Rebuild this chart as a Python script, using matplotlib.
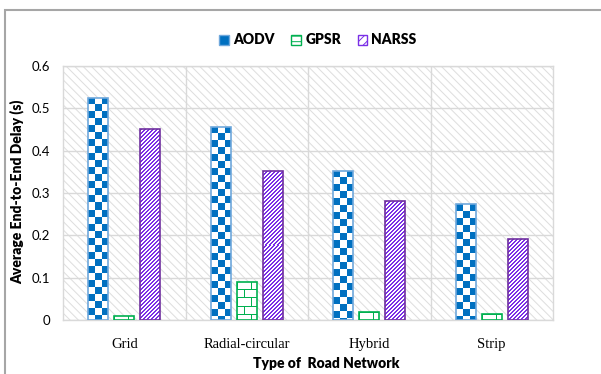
import numpy as np
import matplotlib
matplotlib.use('Agg')
import matplotlib.pyplot as plt
from matplotlib.patches import Rectangle, Patch
from matplotlib.colors import to_rgb

# data
categories = ['Grid', 'Radial-circular', 'Hybrid', 'Strip']
aodv = [0.525, 0.457, 0.352, 0.273]
gpsr = [0.010, 0.090, 0.018, 0.013]
narss = [0.451, 0.352, 0.280, 0.191]
series_names = ['AODV', 'GPSR', 'NARSS']
y_ticks = [0, 0.1, 0.2, 0.3, 0.4, 0.5, 0.6]
y_tick_labels = ['0', '0.1', '0.2', '0.3', '0.4', '0.5', '0.6']

BLUE = '#0070C0'
BLUE_EDGE = '#6FA8DC'
GREEN = '#00B050'
PURPLE = '#7A2FE6'
PURPLE_EDGE = '#7030A0'
GRID = '#D9D9D9'

sans = ['Lato', 'DejaVu Sans']
serif = ['Liberation Serif', 'DejaVu Serif']
plt.rcParams['font.family'] = sans
plt.rcParams['hatch.linewidth'] = 0.7


def pattern(kind, h, w):
    # pixel patterns like the Excel fills
    i, j = np.mgrid[0:h, 0:w]
    img = np.ones((h, w, 3))
    if kind == 'checker':
        mask = ((i // 7 + j // 7) % 2) == 0
        col = BLUE
    elif kind == 'brick':
        row = i // 8
        mask = ((i % 8) == 0) | (((j + (row % 2) * 7) % 14) == 0)
        col = GREEN
    else:
        mask = ((i + j) % 4) < 2
        col = PURPLE
    img[mask] = to_rgb(col)
    return img


fig = plt.figure(figsize=(6.01, 3.74), dpi=100)
ax = fig.add_axes([63 / 601, 54 / 374, 490 / 601, 254 / 374])

# hatched plot area background
ax.add_patch(Rectangle((0, 0), 1, 1, transform=ax.transAxes, facecolor='white',
                       edgecolor='#DDDDDD', hatch='\\\\\\\\', lw=0, zorder=0))

x = np.arange(len(categories))
width = 0.163
step = 0.212
specs = [(aodv, -step, BLUE_EDGE, 'checker'),
         (gpsr, 0, GREEN, 'brick'),
         (narss, step, PURPLE_EDGE, 'stripe')]

all_bars = []
for vals, off, edge, kind in specs:
    bars = ax.bar(x + off, vals, width, facecolor='none', edgecolor=edge, lw=1.2, zorder=3)
    all_bars.append((bars, kind))

ax.set_xlim(-0.5, len(categories) - 0.5)
ax.set_ylim(0, 0.6)

for bars, kind in all_bars:
    for rect in bars:
        bb = rect.get_window_extent()
        w_px = max(1, int(round(bb.width)))
        h_px = max(1, int(round(bb.height)))
        x0 = rect.get_x()
        im = ax.imshow(pattern(kind, h_px, w_px),
                       extent=(x0, x0 + rect.get_width(), 0, rect.get_height()),
                       aspect='auto', interpolation='nearest', zorder=2.5)
        im.set_clip_path(rect)

ax.set_xlim(-0.5, len(categories) - 0.5)
ax.set_ylim(0, 0.6)

ax.set_xticks(x)
ax.set_xticklabels(categories, family=serif, fontsize=10.5)
ax.set_xticks(x[:-1] + 0.5, minor=True)
ax.set_yticks(y_ticks)
ax.set_yticklabels(y_tick_labels, fontsize=9.5)
ax.tick_params(axis='both', which='both', length=0)
ax.tick_params(axis='x', pad=13)
ax.tick_params(axis='y', pad=9)
ax.set_axisbelow(True)
ax.grid(which='major', axis='y', color=GRID, lw=1)
ax.grid(which='minor', axis='x', color=GRID, lw=1)
for s in ax.spines.values():
    s.set_color(GRID)
    s.set_linewidth(1)

fig.text(326 / 601, 1 - 364 / 374, 'Type of  Road Network', ha='center', va='center',
         fontsize=10, fontweight='heavy')
fig.text(17 / 601, 1 - 192 / 374, 'Average End-to-End Delay (s)', ha='center', va='center',
         rotation=90, fontsize=10, fontweight='heavy')

handles = [Patch(facecolor=BLUE, edgecolor=BLUE_EDGE),
           Patch(facecolor='white', edgecolor=GREEN, hatch='---'),
           Patch(facecolor='white', edgecolor=PURPLE, hatch='////')]
fig.legend(handles, series_names, loc='center', bbox_to_anchor=(318 / 601, 1 - 40 / 374),
           ncol=3, frameon=False, handlelength=0.7, handleheight=0.7, handletextpad=0.3,
           columnspacing=1.2, prop={'weight': 'heavy', 'size': 10})

# outer chart border
fig.patches.append(Rectangle((4.5 / 601, -0.1), 1.2, 1 - 10.5 / 374 + 0.1,
                             transform=fig.transFigure, fill=False,
                             edgecolor='#A6A6A6', lw=1.5))

fig.savefig('out.png', dpi=100)
